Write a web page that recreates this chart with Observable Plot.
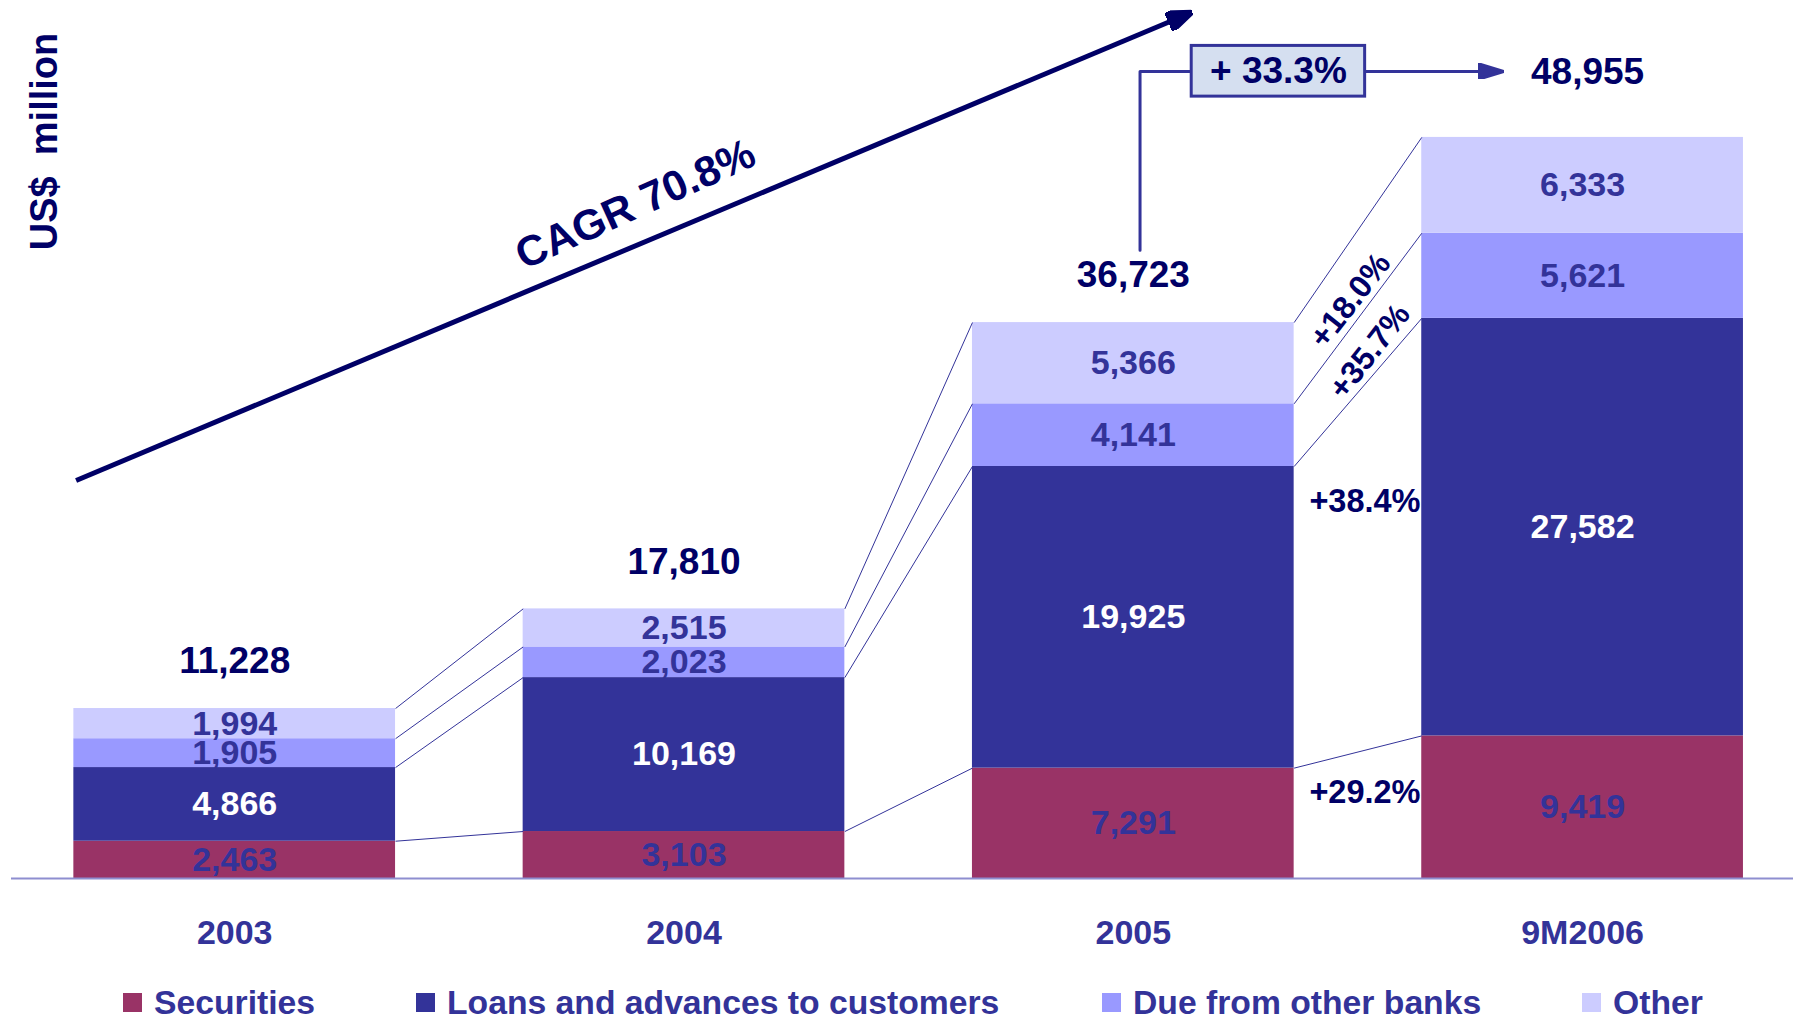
<!DOCTYPE html>
<html><head><meta charset="utf-8">
<script src="https://cdn.jsdelivr.net/npm/d3@7"></script>
<script src="https://cdn.jsdelivr.net/npm/@observablehq/plot@0.6"></script>
<style>
html,body{margin:0;padding:0;background:#fff;}
#chart{width:1800px;}
.legend{position:relative;width:1800px;height:44px;font-family:Arial,"Liberation Sans",sans-serif;font-weight:bold;font-size:33.7px;color:#333399;}
.legend .item{position:absolute;top:10px;height:35px;display:flex;align-items:center;white-space:nowrap;}
.legend .sw{width:19px;height:19px;margin-right:12px;flex:none;}
</style></head><body>
<div id="chart"></div>
<script>
// ---- data ----
const categories = ["2003", "2004", "2005", "9M2006"];
const securities = [2463, 3103, 7291, 9419];
const loans = [4866, 10169, 19925, 27582];
const dueFromBanks = [1905, 2023, 4141, 5621];
const other = [1994, 2515, 5366, 6333];
const totals = [11228, 17810, 36723, 48955];
const seriesNames = ["Securities", "Loans and advances to customers", "Due from other banks", "Other"];
const growthLabels = ["+29.2%", "+38.4%", "+35.7%", "+18.0%"]; // 2005 -> 9M2006, per series
const cagrLabel = "CAGR 70.8%";
const periodGrowthLabel = "+ 33.3%";
const unitLabel = "US$  million";

// ---- styles ----
const seriesColors = ["#993366", "#333399", "#9999FF", "#CCCCFF"];
const navy = "#000066", blue = "#333399";
const FONT = "Arial, 'Liberation Sans', sans-serif";
const hw = 0.358; // half bar width in category units

// ---- tables ----
const seriesValues = [securities, loans, dueFromBanks, other];
const rows = [];
categories.forEach((c, i) => {
  let acc = 0;
  seriesValues.forEach((vals, s) => {
    rows.push({cat: c, idx: i, s, series: seriesNames[s], value: vals[i], y1: acc, y2: acc + vals[i], mid: acc + vals[i] / 2});
    acc += vals[i];
  });
});
const cell = (i, s) => rows[i * seriesNames.length + s];
const links = [];
for (let i = 0; i < categories.length - 1; i++)
  for (let s = 0; s < seriesNames.length; s++)
    links.push({x1: i + hw, y1: cell(i, s).y2, x2: i + 1 - hw, y2: cell(i + 1, s).y2});
const totalRows = totals.map((t, i) => ({idx: i, total: t}));
const growthRows = growthLabels.map((g, s) => ({s, label: g, mid: (cell(2, s).mid + cell(3, s).mid) / 2}));
const fmt = d3.format(",");

// arrowhead marker
function headMarker(len, half, overlap) {
  return (color, context) => {
    const doc = (context && context.document) || document;
    const ns = "http://www.w3.org/2000/svg";
    const m = doc.createElementNS(ns, "marker");
    m.setAttribute("viewBox", `0 ${-half} ${len} ${2 * half}`);
    m.setAttribute("markerWidth", len);
    m.setAttribute("markerHeight", 2 * half);
    m.setAttribute("markerUnits", "userSpaceOnUse");
    m.setAttribute("refX", overlap);
    m.setAttribute("refY", 0);
    m.setAttribute("orient", "auto");
    const p = doc.createElementNS(ns, "path");
    p.setAttribute("d", `M0,${-half}L${len},0L0,${half}Z`);
    p.setAttribute("fill", color);
    m.appendChild(p);
    return m;
  };
}

// annotation geometry (data units: category index, US$ million)
const i05 = categories.indexOf("2005"), i06 = categories.indexOf("9M2006");
const calloutY = 53310;
const cagrArrow = [{x1: -0.353, y1: 26290, x2: 2.086, y2: 56665}];
const elbow = [
  {x: i05 + 0.015, y: totals[i05] + 4780},
  {x: i05 + 0.015, y: calloutY},
  {x: 2.130, y: calloutY}
];
const box = [{x1: 2.130, x2: 2.516, y1: 51650, y2: 55000}];
const smallArrow = [{x1: 2.516, y1: calloutY, x2: 2.773, y2: calloutY}];

const chart = Plot.plot({
  width: 1800,
  height: 975,
  marginTop: 0, marginBottom: 97, marginLeft: 11, marginRight: 7,
  style: {fontFamily: FONT, fontWeight: "bold", background: "#fff"},
  x: {domain: [0, 3], range: [234.2, 1582.1]},
  y: {domain: [0, 58000], range: [878, 0], axis: null},
  color: {domain: seriesNames, range: seriesColors},
  marks: [
    Plot.rect(rows, {x1: d => d.idx - hw, x2: d => d.idx + hw, y1: "y1", y2: "y2", fill: "series"}),
    Plot.link(links, {x1: "x1", y1: "y1", x2: "x2", y2: "y2", stroke: blue, strokeWidth: 1}),
    Plot.ruleY([0], {stroke: "#8E8ED0", strokeWidth: 2}),
    Plot.axisX({ticks: [0, 1, 2, 3], tickFormat: i => categories[i], tickSize: 0, tickPadding: 41,
      fontSize: 34, fontWeight: "bold", fill: blue}),
    // segment labels
    Plot.text(rows.filter(d => d.s !== 1), {x: "idx", y: "mid", text: d => fmt(d.value),
      fontSize: 34, fontWeight: "bold", fill: blue}),
    Plot.text(rows.filter(d => d.s === 1), {x: "idx", y: "mid", text: d => fmt(d.value),
      fontSize: 34, fontWeight: "bold", fill: "white"}),
    // totals
    Plot.text(totalRows.filter(d => d.idx !== i06), {x: "idx", y: "total", text: d => fmt(d.total),
      dy: -47, fontSize: 37, fontWeight: "bold", fill: navy}),
    Plot.text(totalRows.filter(d => d.idx === i06), {x: "idx", y: "total", text: d => fmt(d.total),
      dx: 5, dy: -65, fontSize: 37, fontWeight: "bold", fill: navy}),
    // growth labels between 2005 and 9M2006
    Plot.text(growthRows.filter(d => d.s === 0), {x: () => 2.5, y: "mid", text: "label", dx: 7, dy: -23,
      fontSize: 32.5, fontWeight: "bold", fill: navy}),
    Plot.text(growthRows.filter(d => d.s === 1), {x: () => 2.5, y: "mid", text: "label", dx: 7, dy: -71,
      fontSize: 32.5, fontWeight: "bold", fill: navy}),
    Plot.text(growthRows.filter(d => d.s === 2), {x: () => 2.526, y: d => d.mid + 264, text: "label", rotate: -52,
      fontSize: 32, fontWeight: "bold", fill: navy}),
    Plot.text(growthRows.filter(d => d.s === 3), {x: () => 2.483, y: d => d.mid - 1732, text: "label", rotate: -52,
      fontSize: 32, fontWeight: "bold", fill: navy}),
    // CAGR arrow
    Plot.link(cagrArrow, {x1: "x1", y1: "y1", x2: "x2", y2: "y2", stroke: navy, strokeWidth: 5,
      markerEnd: headMarker(26, 10, 4)}),
    Plot.text([cagrLabel], {x: () => 0.892, y: () => 44520, text: d => d, rotate: -24.3,
      fontSize: 42.5, fontWeight: "bold", fill: navy}),
    // period growth callout
    Plot.line(elbow, {x: "x", y: "y", stroke: blue, strokeWidth: 3}),
    Plot.rect(box, {x1: "x1", x2: "x2", y1: "y1", y2: "y2", fill: "#D5DFF0", stroke: blue, strokeWidth: 3}),
    Plot.text([periodGrowthLabel], {x: () => (box[0].x1 + box[0].x2) / 2, y: () => calloutY, text: d => d,
      fontSize: 37, fontWeight: "bold", fill: navy}),
    Plot.link(smallArrow, {x1: "x1", y1: "y1", x2: "x2", y2: "y2", stroke: blue, strokeWidth: 3,
      markerEnd: headMarker(26, 8, 3)}),
    // unit label
    Plot.text([unitLabel], {frameAnchor: "top-left", textAnchor: "middle", lineAnchor: "middle",
      dx: 33, dy: 141, text: d => d, rotate: -90,
      fontSize: 38, fontWeight: "bold", fill: navy})
  ]
});
document.getElementById("chart").appendChild(chart);

// legend
const legend = document.createElement("div");
legend.className = "legend";
const legendLefts = [123, 416, 1102, 1582];
seriesNames.forEach((name, s) => {
  const item = document.createElement("div");
  item.className = "item";
  item.style.left = legendLefts[s] + "px";
  const sw = document.createElement("span");
  sw.className = "sw";
  sw.style.background = seriesColors[s];
  const tx = document.createElement("span");
  tx.textContent = name;
  item.appendChild(sw); item.appendChild(tx);
  legend.appendChild(item);
});
document.body.appendChild(legend);
</script>
</body></html>
